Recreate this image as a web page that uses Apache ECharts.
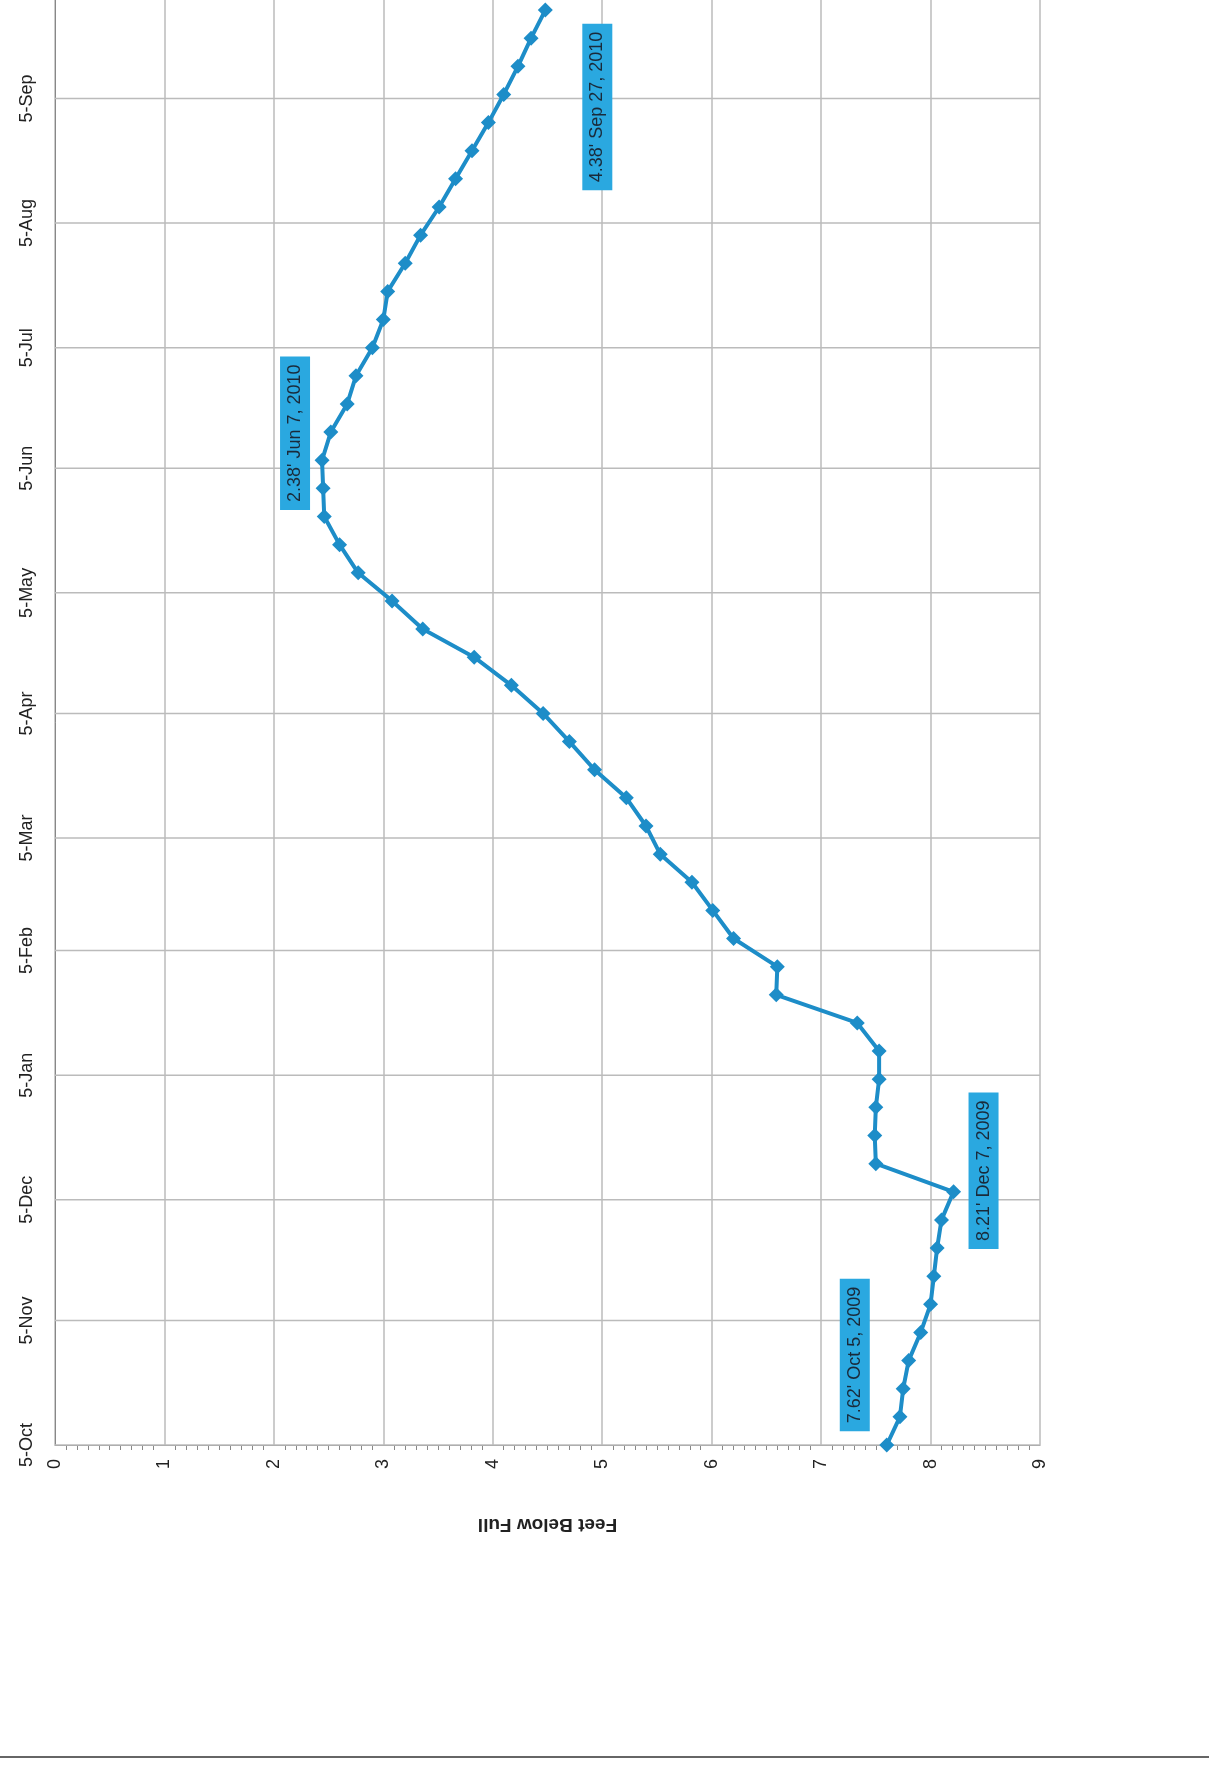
<!DOCTYPE html>
<html><head><meta charset="utf-8">
<script src="https://cdn.jsdelivr.net/npm/echarts@6/dist/echarts.min.js"></script>
<style>html,body{margin:0;background:#fff}#c{width:1209px;height:1790px}</style>
</head><body><div id="c"></div>
<script>
var startDate = "2009-10-05";
var depths = [7.6, 7.72, 7.75, 7.8, 7.91, 8.0, 8.03, 8.06, 8.1, 8.21,
  7.5, 7.49, 7.5, 7.53, 7.53, 7.33, 6.59, 6.6, 6.2, 6.01,
  5.82, 5.53, 5.4, 5.22, 4.93, 4.7, 4.46, 4.17, 3.83, 3.36,
  3.08, 2.77, 2.6, 2.46, 2.45, 2.44, 2.52, 2.67, 2.75, 2.9,
  3.0, 3.04, 3.2, 3.34, 3.51, 3.66, 3.81, 3.96, 4.1, 4.23,
  4.35, 4.48];
var tickDates = ["2009-10-05", "2009-11-05", "2009-12-05", "2010-01-05", "2010-02-05", "2010-03-05",
  "2010-04-05", "2010-05-05", "2010-06-05", "2010-07-05", "2010-08-05", "2010-09-05"];
var tickLabels = ["5-Oct", "5-Nov", "5-Dec", "5-Jan", "5-Feb", "5-Mar", "5-Apr", "5-May", "5-Jun", "5-Jul", "5-Aug", "5-Sep"];
var notes = [
  {idx: 0, text: "7.62' Oct 5, 2009"},
  {idx: 9, text: "8.21' Dec 7, 2009"},
  {idx: 35, text: "2.38' Jun 7, 2010"},
  {idx: 51, text: "4.38' Sep 27, 2010"}
];

var DAY = 86400000;
var t0 = Date.parse(startDate + "T00:00:00Z");
var pts = depths.map(function (v, i) { return [v, t0 + i * 7 * DAY]; });
// label offsets are in the rotated frame: [-dy, dx]
var offs = {0: [90, -32], 9: [21, 30], 35: [27, -27], 51: [-97, 52]};
var data = pts.map(function (p, i) {
  var n = notes.find(function (o) { return o.idx === i; });
  if (!n) return p;
  return {value: p, label: {show: true, formatter: n.text, rotate: 90, position: "inside",
    offset: offs[i], backgroundColor: "#2aa8e0", color: "#1a2a3a", fontSize: 18,
    padding: [6, 8], fontFamily: "Liberation Sans"}};
});
var ticks = tickDates.map(function (d, i) { return [Date.parse(d + "T00:00:00Z"), tickLabels[i]]; });

var chart = echarts.init(document.getElementById("c"));
chart.setOption({
  animation: false,
  grid: {left: 55, right: 169, top: 0, bottom: 345},
  xAxis: {type: "value", min: 0, max: 9, interval: 1,
    name: "Feet Below Full", nameLocation: "middle", nameGap: 70, nameRotate: 180,
    nameTextStyle: {fontSize: 19, fontWeight: "bold", color: "#222", fontFamily: "Liberation Sans"},
    axisLine: {lineStyle: {color: "#888"}},
    axisTick: {show: false},
    minorTick: {show: true, splitNumber: 10, length: 5, lineStyle: {color: "#888"}},
    axisLabel: {rotate: 90, fontSize: 18, color: "#222", margin: 14, fontFamily: "Liberation Sans"},
    splitLine: {lineStyle: {color: "#bbb", width: 1.5}}},
  yAxis: {type: "value", min: t0, max: Date.parse("2010-09-29T12:00:00Z"),
    axisLine: {lineStyle: {color: "#888"}}, axisTick: {show: false}, axisLabel: {show: false},
    splitLine: {show: false}},
  series: [
    {type: "custom", data: ticks, encode: {y: 0}, silent: true, z: 1,
      renderItem: function (params, api) {
        var p0 = api.coord([0, api.value(0)]);
        var p1 = api.coord([9, api.value(0)]);
        return {type: "group", children: [
          {type: "line", shape: {x1: p0[0], y1: p0[1], x2: p1[0], y2: p1[1]}, style: {stroke: "#bbb", lineWidth: 1.5}},
          {type: "text", x: p0[0] - 28, y: p0[1], rotation: Math.PI / 2,
            style: {text: ticks[params.dataIndex][1], fontSize: 18, fill: "#222", align: "center",
              verticalAlign: "middle", fontFamily: "Liberation Sans"}}
        ]};
      }},
    {type: "line", data: data, z: 3, symbol: "diamond", symbolSize: 15,
      lineStyle: {color: "#1d8dc8", width: 4}, itemStyle: {color: "#1d8dc8"}}
  ],
  graphic: [{type: "line", shape: {x1: 0, y1: 1757, x2: 1209, y2: 1757}, style: {stroke: "#666", lineWidth: 2}}]
});
</script></body></html>
